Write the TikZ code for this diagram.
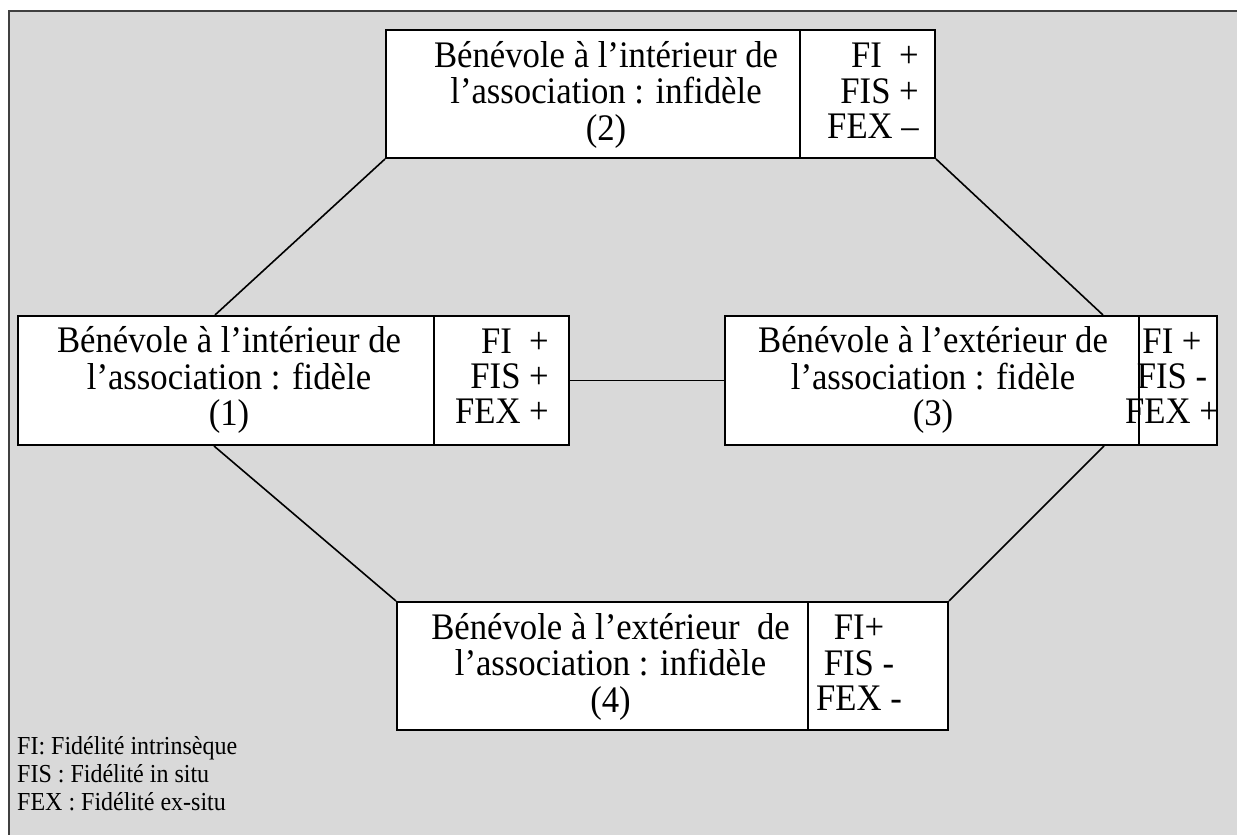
\documentclass[tikz,border=0pt]{standalone}
\usepackage{fontspec}
\usepackage{graphicx}
\setmainfont{Liberation Serif}
\usetikzlibrary{calc}
\definecolor{bg}{HTML}{D9D9D9}
\definecolor{framec}{HTML}{404040}
\newcommand{\stab}[2]{\scalebox{1}[1.08]{\begin{tabular}{@{}#1@{}}#2\end{tabular}}}
\begin{document}
\begin{tikzpicture}[x=1pt,y=-1pt,
  box/.style={draw=black, line width=2pt, fill=white, inner sep=0pt, anchor=north west},
  maintext/.style={font=\fontsize{34.7}{32.4}\selectfont, inner sep=0pt},
  marks/.style={font=\fontsize{34.7}{32.4}\selectfont, inner sep=0pt},
  link/.style={draw=black, line width=1.6pt},
  legend/.style={font=\fontsize{24}{25.5}\selectfont, anchor=west, inner sep=0pt}]
\useasboundingbox (0,0) rectangle (1237,835);
\fill[bg] (9,11) rectangle (1237,835);
\draw[framec, line width=2.2pt] (9,835) -- (9,11) -- (1237,11);

% boxes
\node[box, minimum width=414pt, minimum height=128pt] (b2L) at (385,29) {};
\node[box, minimum width=135pt, minimum height=128pt] (b2R) at (799,29) {};
\node[box, minimum width=416pt, minimum height=129pt] (b1L) at (17,315) {};
\node[box, minimum width=135pt, minimum height=129pt] (b1R) at (433,315) {};
\node[box, minimum width=414pt, minimum height=129pt] (b3L) at (724,315) {};
\node[box, minimum width=78pt, minimum height=129pt] (b3R) at (1138,315) {};
\node[box, minimum width=411pt, minimum height=128pt] (b4L) at (396,601) {};
\node[box, minimum width=140pt, minimum height=128pt] (b4R) at (807,601) {};

% connectors
\draw[link] (b2L.south west) -- ($(b1L.north west)+(198,0)$);
\draw[link] (b2R.south east) -- ($(b3L.north west)+(379,0)$);
\draw[link] ($(b1L.south west)+(197,0)$) -- (b4L.north west);
\draw[link] ($(b3L.south west)+(380,0)$) -- (b4R.north east);
\draw[link] (b1R.east) -- (b3L.west);

% texts
\node[maintext] (t2) at ($(b2L.center)+(13,2)$) {\stab{c}{Bénévole à l’intérieur de\\l’association : infidèle\\(2)}};
\node[maintext] (t1) at ($(b1L.center)+(3,1)$) {\stab{c}{Bénévole à l’intérieur de\\l’association : fidèle\\(1)}};
\node[maintext] (t3) at ($(b3L.center)+(1,1)$) {\stab{c}{Bénévole à l’extérieur de\\l’association : fidèle\\(3)}};
\node[maintext] (t4) at ($(b4L.center)+(8,2)$) {\stab{c}{Bénévole à l’extérieur\ \ de\\l’association : infidèle\\(4)}};

\node[marks, anchor=east] (m2) at ($(b2R.east)+(-17,2)$) {\stab{r}{FI\ \ +\\FIS\ +\\FEX –}};
\node[marks, anchor=east] (m1) at ($(b1R.east)+(-21,1)$) {\stab{r}{FI\ \ +\\FIS\ +\\FEX +}};
\node[marks] (m3) at ($(b3R.center)+(-6,1)$) {\stab{c}{FI +\\FIS -\\FEX +}};
\node[marks] (m4) at ($(b4R.center)+(-19,2)$) {\stab{c}{FI+\\FIS -\\FEX -}};

\node[legend] (lg) at (17,777) {\stab{l}{FI: Fidélité intrinsèque\\FIS : Fidélité in situ\\FEX : Fidélité ex-situ}};
\end{tikzpicture}
\end{document}
